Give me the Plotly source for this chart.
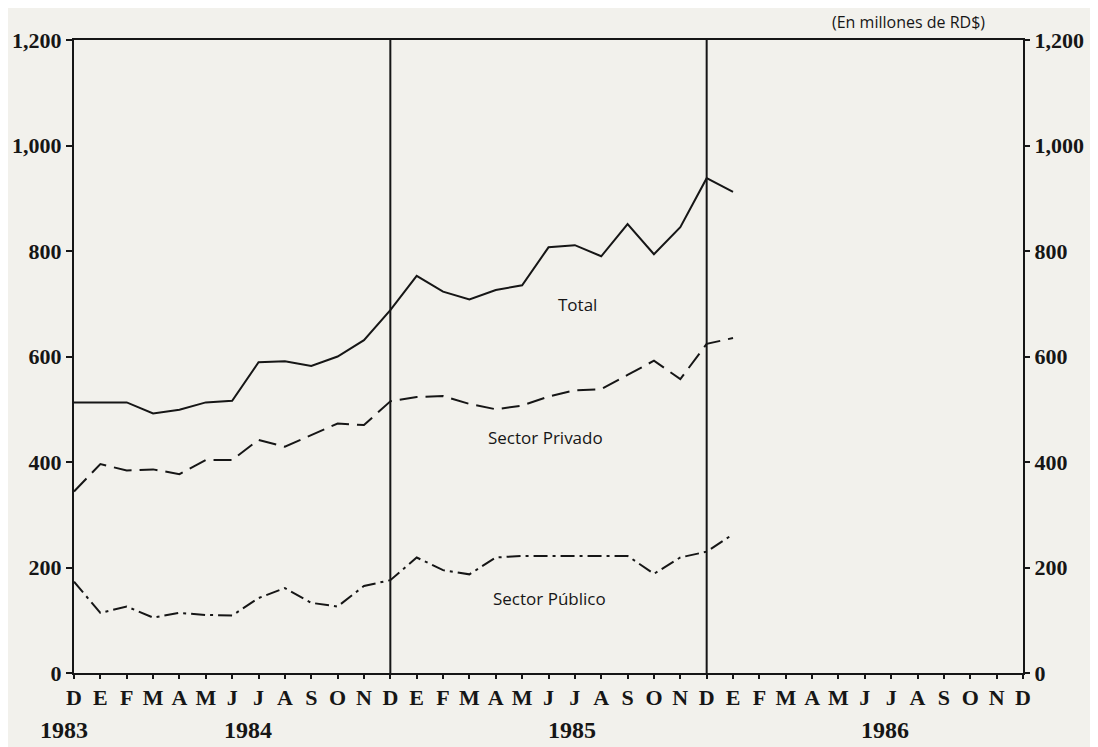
import plotly.graph_objects as go

# Months from Dec 1983 (index 0) to Dec 1986 (index 36)
month_letters = ["D", "E", "F", "M", "A", "M", "J", "J", "A", "S", "O", "N",
                 "D", "E", "F", "M", "A", "M", "J", "J", "A", "S", "O", "N",
                 "D", "E", "F", "M", "A", "M", "J", "J", "A", "S", "O", "N", "D"]
month_idx = list(range(len(month_letters)))

# Data: Dec 1983 .. Jan 1986 (millones de RD$)
total = [513, 513, 513, 492, 499, 513, 516, 589, 591, 582, 600, 631,
         688, 753, 723, 708, 726, 735, 807, 811, 790, 851, 794, 845,
         938, 912]
privado = [344, 396, 384, 386, 377, 404, 404, 442, 429, 451, 473, 470,
           515, 523, 525, 510, 500, 507, 524, 536, 538, 565, 592, 557,
           624, 635]
publico = [173, 114, 126, 105, 114, 110, 109, 142, 161, 133, 126, 165,
           176, 219, 195, 187, 219, 222, 222, 222, 222, 222, 188, 219,
           230, 263]
data_x = month_idx[:len(total)]

y_ticks = [0, 200, 400, 600, 800, 1000, 1200]
year_labels = ["1983", "1984", "1985", "1986"]
year_label_pos = [-0.0105, 0.1833, 0.5248, 0.8546]   # paper fractions
year_breaks = [12, 24]

INK = "#161616"
BG = "#f2f1ec"
SERIF = "Liberation Serif"
SANS = "Open Sans"

fig = go.Figure()
fig.add_trace(go.Scatter(x=data_x, y=total, mode="lines",
                         line=dict(color=INK, width=2), showlegend=False))
fig.add_trace(go.Scatter(x=data_x, y=privado, mode="lines",
                         line=dict(color=INK, width=2, dash="18px,8px"), showlegend=False))
fig.add_trace(go.Scatter(x=data_x, y=publico, mode="lines",
                         line=dict(color=INK, width=2, dash="14px,5px,3px,5px"), showlegend=False))
# invisible trace to activate right axis
fig.add_trace(go.Scatter(x=[data_x[0]], y=[total[0]], yaxis="y2", mode="lines",
                         line=dict(width=0), showlegend=False, hoverinfo="skip"))

for xb in year_breaks:
    fig.add_vline(x=xb, line=dict(color=INK, width=2))

fig.add_annotation(x=19.1, y=698, text="Total", showarrow=False,
                   font=dict(family=SANS, size=17, color=INK))
fig.add_annotation(x=17.9, y=446, text="Sector Privado", showarrow=False,
                   font=dict(family=SANS, size=17, color=INK))
fig.add_annotation(x=18.05, y=142, text="Sector Público", showarrow=False,
                   font=dict(family=SANS, size=17, color=INK))
fig.add_annotation(x=0.879, xref="paper", xanchor="center", y=1.029, yref="paper",
                   yanchor="middle", text="(En millones de RD$)", showarrow=False,
                   font=dict(family=SANS, size=16, color=INK))
for lab, pos in zip(year_labels, year_label_pos):
    fig.add_annotation(x=pos, xref="paper", xanchor="center", y=-0.09, yref="paper",
                       yanchor="middle", text=lab, showarrow=False,
                       font=dict(family=SERIF, size=24, color=INK, weight="bold"))

axis_font = dict(family=SERIF, size=22, color=INK, weight="bold")
fig.update_layout(
    width=1090, height=739,
    margin=dict(l=66, r=75, t=32, b=74, autoexpand=False),
    paper_bgcolor=BG, plot_bgcolor=BG,
    xaxis=dict(range=[0, 36], tickmode="array", tickvals=month_idx, ticktext=month_letters,
               showgrid=False, zeroline=False, showline=True, linecolor=INK, linewidth=2,
               mirror=True, ticks="outside", ticklen=4, tickwidth=1.5, tickcolor=INK,
               tickfont=axis_font, automargin=False),
    yaxis=dict(range=[0, 1200], tickmode="array", tickvals=y_ticks, tickformat=",d",
               showgrid=False, zeroline=False, showline=True, linecolor=INK, linewidth=2,
               ticks="outside", ticklen=6, tickwidth=1.5, tickcolor=INK, tickfont=axis_font,
               automargin=False),
    yaxis2=dict(range=[0, 1200], tickmode="array", tickvals=y_ticks, tickformat=",d",
                overlaying="y", side="right",
                showgrid=False, zeroline=False, showline=True, linecolor=INK, linewidth=2,
                ticks="outside", ticklen=5, tickwidth=1.5, tickcolor=INK, tickfont=axis_font,
                automargin=False),
)

fig.write_html("out.html")
